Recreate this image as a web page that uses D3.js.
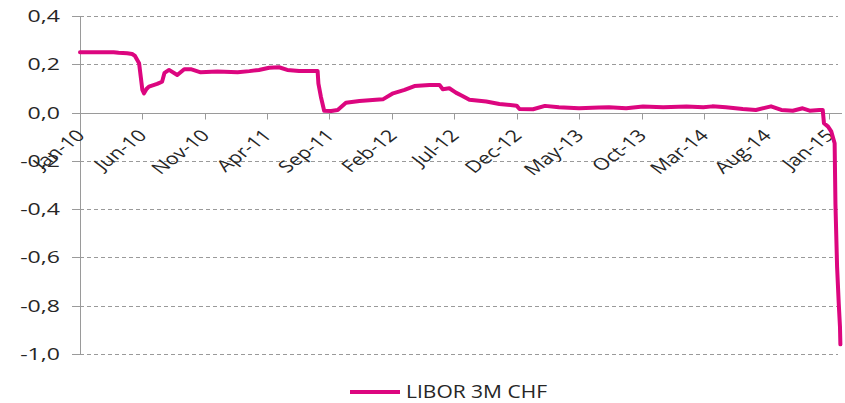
<!DOCTYPE html>
<meta charset="utf-8">
<style>
body { margin: 0; background: #fff; }
.grid line { stroke: #9a9a9a; stroke-width: 1px; stroke-dasharray: 4,3; }
.axis line, .axis path { stroke: #9a9a9a; stroke-width: 1px; fill: none; }
.lbl { font: 16.5px "Open Sans", sans-serif; fill: #262626; }
.line { fill: none; stroke: #dc067f; stroke-width: 4px; stroke-linejoin: round; stroke-linecap: round; }
</style>
<body>
<script src="https://d3js.org/d3.v7.min.js"></script>
<script>

// data
var dates = ["2010-01-01","2010-03-24","2010-04-05","2010-04-26","2010-05-08","2010-05-15","2010-05-25",
  "2010-06-02","2010-06-06","2010-06-12","2010-06-18","2010-07-08","2010-07-20","2010-07-26","2010-08-06",
  "2010-08-26","2010-09-12","2010-09-28","2010-10-22","2010-12-02","2011-01-20","2011-02-18","2011-03-13",
  "2011-04-07","2011-05-01","2011-05-21","2011-06-19","2011-08-03","2011-08-05","2011-08-11","2011-08-19",
  "2011-09-05","2011-09-21","2011-10-11","2011-11-13","2011-12-23","2012-01-09","2012-02-03","2012-03-02",
  "2012-03-26","2012-05-02","2012-05-26","2012-06-03","2012-06-19","2012-07-05","2012-07-21","2012-08-07",
  "2012-09-17","2012-10-19","2012-11-30","2012-12-07","2013-01-09","2013-02-07","2013-03-13","2013-05-01",
  "2013-06-19","2013-07-13","2013-08-24","2013-10-04","2013-11-22","2014-01-18","2014-02-28","2014-03-22",
  "2014-04-24","2014-06-04","2014-07-06","2014-08-12","2014-09-06","2014-10-04","2014-10-28","2014-11-14",
  "2014-12-08","2014-12-16","2014-12-19","2014-12-29","2015-01-06","2015-01-14","2015-01-16","2015-01-20",
  "2015-01-24","2015-01-27","2015-01-28"];
var libor = [0.250,0.250,0.248,0.246,0.243,0.235,0.205,
  0.094,0.080,0.098,0.108,0.119,0.128,0.165,0.177,
  0.156,0.180,0.180,0.167,0.170,0.167,0.172,0.177,
  0.186,0.188,0.177,0.173,0.173,0.120,0.066,0.008,
  0.007,0.011,0.041,0.048,0.053,0.055,0.080,0.094,
  0.110,0.115,0.115,0.097,0.101,0.083,0.069,0.053,
  0.046,0.036,0.029,0.015,0.014,0.028,0.022,0.018,
  0.021,0.022,0.018,0.025,0.022,0.025,0.022,0.026,
  0.022,0.015,0.011,0.026,0.011,0.008,0.018,0.008,
  0.011,0.011,-0.044,-0.058,-0.079,-0.127,-0.38,-0.64,
  -0.79,-0.886,-0.96];
var yTicks = [-1.0, -0.8, -0.6, -0.4, -0.2, 0.0, 0.2, 0.4];
var seriesName = "LIBOR 3M CHF";

var parse = d3.timeParse("%Y-%m-%d");
var data = dates.map(function(d, i) { return {date: parse(d), value: libor[i]}; });

var width = 845, height = 403;
var left = 80, gridEnd = 838, axisEnd = 842;

var x = d3.scaleTime()
    .domain([parse("2010-01-01"), parse("2015-01-01")])
    .range([left, 829.3]);
var y = d3.scaleLinear()
    .domain([-1, 0.4])
    .range([354, 16.1]);

// x ticks every 5 months from Jan-10
var xTicks = d3.range(0, 61, 5).map(function(m) { return d3.timeMonth.offset(parse("2010-01-01"), m); });
var fmtDate = d3.timeFormat("%b-%y");
var fmtNum = d3.formatLocale({decimal: ",", thousands: ".", grouping: [3], currency: ["", ""], minus: "-"}).format(".1f");

var svg = d3.select("body").append("svg")
    .attr("width", width)
    .attr("height", height);

// horizontal grid (dashed)
var grid = svg.append("g").attr("class", "grid");
grid.selectAll("line")
    .data(yTicks.filter(function(v) { return v !== 0; }))
  .enter().append("line")
    .attr("x1", left).attr("x2", gridEnd)
    .attr("y1", function(d) { return Math.round(y(d)) + 0.5; })
    .attr("y2", function(d) { return Math.round(y(d)) + 0.5; });

var axes = svg.append("g").attr("class", "axis");
axes.selectAll(".ytick")
    .data(yTicks)
  .enter().append("line")
    .attr("class", "ytick")
    .attr("x1", left - 8).attr("x2", left)
    .attr("y1", function(d) { return Math.round(y(d)) + 0.5; })
    .attr("y2", function(d) { return Math.round(y(d)) + 0.5; });

// y axis line
axes.append("line")
    .attr("x1", left + 0.5).attr("x2", left + 0.5)
    .attr("y1", y(0.4)).attr("y2", y(-1));

// x axis sits on zero
var y0 = Math.round(y(0)) + 0.5;
axes.append("line")
    .attr("x1", left).attr("x2", axisEnd)
    .attr("y1", y0).attr("y2", y0);
axes.selectAll(".xtick")
    .data(xTicks)
  .enter().append("line")
    .attr("class", "xtick")
    .attr("x1", function(d) { return Math.round(x(d)) + 0.5; })
    .attr("x2", function(d) { return Math.round(x(d)) + 0.5; })
    .attr("y1", y0).attr("y2", y0 + 6);

// y labels (picture is stretched horizontally)
svg.append("g").selectAll("text")
    .data(yTicks)
  .enter().append("text")
    .attr("class", "lbl")
    .attr("text-anchor", "end")
    .attr("dy", "0.36em")
    .attr("transform", function(d) { return "translate(60," + y(d) + ") scale(1.4,1)"; })
    .text(function(d) { return fmtNum(d); });

// x labels, rotated
svg.append("g").selectAll("text")
    .data(xTicks)
  .enter().append("text")
    .attr("class", "lbl")
    .attr("text-anchor", "end")
    .attr("transform", function(d) { return "translate(" + (x(d) + 6) + "," + (y0 + 23) + ") scale(1.3,1) rotate(-45)"; })
    .text(function(d) { return fmtDate(d); });

// the series
var line = d3.line()
    .x(function(d) { return x(d.date); })
    .y(function(d) { return y(d.value); });
svg.append("path")
    .datum(data)
    .attr("class", "line")
    .attr("d", line);

// legend
var leg = svg.append("g").attr("transform", "translate(350,392)");
leg.append("line")
    .attr("x1", 0).attr("x2", 50)
    .attr("stroke", "#dc067f").attr("stroke-width", 4);
leg.append("text")
    .attr("class", "lbl")
    .attr("x", 56).attr("dy", "0.34em")
    .style("font-size", "17.5px")
    .attr("textLength", 141)
    .attr("lengthAdjust", "spacingAndGlyphs")
    .text(seriesName);

</script>
</body>
